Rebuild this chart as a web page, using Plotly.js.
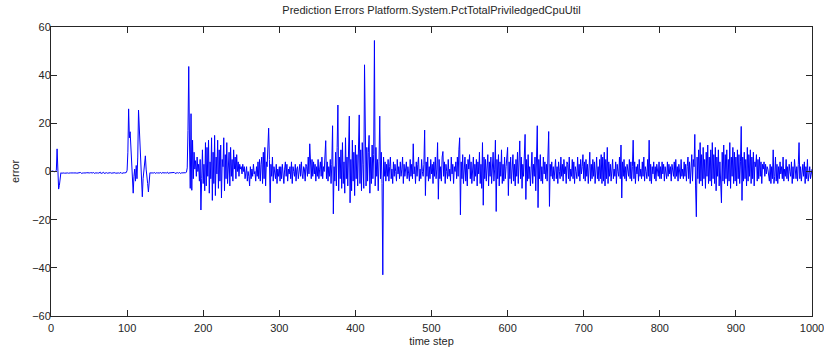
<!DOCTYPE html>
<html>
<head>
<meta charset="utf-8">
<script src="https://cdn.plot.ly/plotly-3.0.1.min.js"></script>
<style>html,body{margin:0;padding:0;background:#fff;}#chart{width:824px;height:352px;}</style>
</head>
<body>
<div id="chart"></div>
<script>
// Prediction errors, time steps 1..1000, in blocks of 100 steps
var errSteps1to100 = [0.3,0.1,0.2,0.0,-0.1,0.2,0.4,9.4,-4.5,-7.3,-5.8,-1.0,
-0.5,-0.7,-0.6,-0.5,-0.6,-0.7,-0.6,-0.5,-0.6,-0.6,
-0.7,-0.5,-0.6,-0.6,-0.5,-0.7,-0.6,-0.6,-0.5,-0.6,
-0.6,-0.7,-0.6,-0.5,-0.6,-0.6,-0.4,-0.8,-0.5,-0.6,
-0.6,-0.7,-0.6,-0.6,-0.5,-0.6,-0.7,-0.6,-0.6,-0.5,
-0.6,-0.6,-0.6,-0.4,-0.8,-0.6,-0.5,-0.6,-0.6,-0.7,
-0.6,-0.6,-0.3,-0.9,-0.5,-0.6,-0.3,-0.8,-0.6,-0.6,
-0.5,-0.7,-0.6,-0.6,-0.6,-0.5,-0.7,-0.6,-0.6,-0.6,
-0.6,-0.5,-0.7,-0.6,-0.6,-0.5,-0.6,-0.7,-0.6,-0.4,
-0.8,-0.6,-0.6,-0.5,-0.6,-0.6,-0.4,0.5];
var errSteps101to200 = [8,26,14,16.5,9.5,2,-6,-9,-2,1,
-4,2.5,-3,6,25.5,18,9,1,-7,-10.5,
-3,1,4,6.5,1,-1,-5,-8.5,-3,-0.5,
-0.6,-0.5,-0.7,-0.6,-0.6,-0.4,-0.8,-0.6,-0.5,-0.6,
-0.7,-0.6,-0.6,-0.4,-0.8,-0.5,-0.6,-0.6,-0.7,-0.6,
-0.5,-0.6,-0.3,-0.8,-0.6,-0.6,-0.5,-0.7,-0.6,-0.6,
-0.6,-0.4,-0.8,-0.6,-0.6,-0.5,-0.6,-0.7,-0.4,-0.8,
-0.6,-0.6,-0.5,-0.7,-0.6,-0.6,-0.5,-0.3,
1.5,17,43.6,11,-7,24,-7.8,13,-3,8,
1,4.5,-2,6,0,3,-4,5,-16,-3,9,-5];
var errSteps201to300 = [3,-8,12,-6,10,-2,13,-9,4,-3,
14,-12,8,-5,15,-10,6,-1,13,-7,
9,-4,11,-11,5,2,14,-8,7,-3,
12,-5,3,8,-6,10,-2,5,-4,9,
1,6,-3,7,0,4,-2,3,1,2,
-1,3,0,2,-3,1,2,-4,0,-2,
-6,2,-3,1,-2,3,-1,0,-4,2,
-2,4,-3,5,-4,3,6,-5,8,-3,
10,-6,4,2,12,18,5,-13,3,-2,
6,-4,2,-1,-3,3,-5,1,-2,2];
var errSteps301to400 = [-4,2,-3,3,0,-5,1,4,-2,3,
-4,1,-1,2,-3,4,-5,2,0,-2,
3,-4,1,2,-3,0,3,-2,4,-1,
-3,2,1,-4,3,
2,-2,6,-1,11.5,3,-3,5,-2,4,
-1,3,-4,2,-2,5,-3,1,4,-2,6,-3,2,0,7,12.8,-3,4,-4,2,
-2,5,-5,3,19,-17.6,2,-4,8,-6,
10,27.6,-8,6,-3,9,-7,12,-5,4,
-9,14,-3,6,-6,10,23,-13,5,-8,
13,-4,8,-10,11];
var errSteps401to500 = [-3,7,-6,15,23.5,-5,9,-8,12,3,
-7,44.3,5,-6,10,-4,8,15,-9,6,
-5,11,-3,7,54.4,-6,10,-2,5,-8,
4,23,-3,8,-5,-42.9,6,-2,4,-4,
3,-2,5,-4,2,6,-3,1,-5,4,
-2,3,0,-4,5,-1,2,-3,4,-2,
1,6,-5,3,-2,0,4,-3,2,-1,
-4,5,-2,3,-3,11.5,-1,2,-5,4,
-2,3,6,-4,1,-3,5,0,-2,3,
17.2,-10,4,-2,6,-4,2,-3,5,-1];
var errSteps501to600 = [3,-5,4,-2,6,-3,1,12,-11.5,5,
-3,2,-4,6,8.3,-2,4,-5,3,0,
-3,5,-2,1,-4,6,-1,3,-5,2,
0,4,-3,6,-2,
9,14,-18,4,-3,7,-5,2,6,-4,
3,-6,5,1,7,-3,4,-5,2,6,
-4,3,-2,5,-6,4,-1,8,-5,3,
-7,12,-14,6,-3,5,-4,2,7,-6,
4,-2,6,-5,3,8,-4,1,13,-16.6,
5,-3,7,-6,4,-2,9,-5,3,-4,
6,-3,2,5,10];
var errSteps601to700 = [-10,4,-3,6,-5,2,7,-4,3,-6,
5,-2,8,-5,4,12.7,-3,6,-7,3,
-2,9,15.4,-11.6,5,-4,7,-3,2,-6,
4,8,-5,3,-2,6,-8,4,19,-15,
5,-3,7,-4,2,-5,6,-1,4,-3,
3,-4,5,16.6,-14.5,3,-2,4,-3,2,
-4,3,5,-3,2,-5,4,0,-3,6,
-2,3,-4,5,-1,2,-5,4,3,-3,
6,-4,1,-2,5,-3,4,-5,2,0,
-3,6,-2,3,-4,5,-1,2,7,-3];
var errSteps701to800 = [4,-4,5,-2,3,-5,2,8,-4,3,
-3,5,-2,4,-5,1,6,-3,2,-4,
5,-3,7,-5,6,-4,8,-6,5,-3,
10,-5,4,-2,3,-4,2,5,-3,1,
-2,4,-5,3,0,-2,6,-3,11,-11,
4,-2,5,-3,2,-4,3,1,-2,5,
-3,4,-4,2,13,-3,4,-5,2,-1,
3,-4,5,-2,1,-3,4,-2,6,-4,
2,0,-3,5,-2,13,-4,3,-5,2,
-1,4,-3,2,-4,3,1,-2,4,-3];
var errSteps801to900 = [2,-3,4,-1,3,-4,2,0,-3,4,
-2,3,-1,2,-4,3,1,-2,4,-3,
5,-2,2,-4,3,0,-3,5,-2,1,
-3,4,-2,3,-4,2,6,-3,4,-5,
3,7,-4,5,2,15.4,-6,-18.8,6,-3,
9,-5,12,-4,7,-6,10,-3,5,-7,
8,-2,11,-5,6,-4,9,-6,12,-3,
7,-5,10,-8,6,-2,9,-6,4,-3,
-13,8,-4,11,-5,7,-3,9,-6,5,
-4,12,-7,6,-2,10,-5,8,-4,6];
var errSteps901to1000 = [-6,9,-3,7,-5,4,18.7,-12,6,-4,
8,-3,5,-6,10,-4,7,-2,9,-5,
6,-3,8,-6,4,2,7,-4,5,-3,
6,-2,4,-5,3,1,4,-2,3,-1,
2,1,-1,-4,3,-5,2,-3,9,-5,
-2,6,-4,3,-5,2,-3,4,-1,2,
-3,6,-4,1,-2,5,-3,2,-4,3,
0,-2,4,-5,2,-3,5,1,-3,2,
-4,3,12,-3,2,-4,1,3,-2,4,
-5,2,-3,5,-4,1,2,-3,0,1];

var xTickVals = [0,100,200,300,400,500,600,700,800,900,1000];
var xTickText = ['0','100','200','300','400','500','600','700','800','900','1000'];
var yTickVals = [-60,-40,-20,0,20,40,60];

var errors = [].concat(errSteps1to100, errSteps101to200, errSteps201to300, errSteps301to400,
  errSteps401to500, errSteps501to600, errSteps601to700, errSteps701to800,
  errSteps801to900, errSteps901to1000);
var steps = errors.map(function(_, i){ return i + 1; });

var font = {family: 'Liberation Sans, Arial, sans-serif', size: 11, color: '#262626'};
var axisCommon = {
  showline: true, linecolor: '#262626', linewidth: 1, mirror: 'ticks',
  ticks: 'inside', ticklen: 6, tickcolor: '#262626', tickwidth: 1,
  showgrid: false, zeroline: false, tickfont: font
};

Plotly.newPlot('chart', [{
  x: steps, y: errors, type: 'scatter', mode: 'lines',
  line: {color: '#0000ff', width: 1}, hoverinfo: 'skip'
}], {
  width: 824, height: 352,
  margin: {l: 51, r: 12, t: 27, b: 36},
  paper_bgcolor: '#ffffff', plot_bgcolor: '#ffffff',
  font: font, showlegend: false,
  title: {text: 'Prediction Errors Platform.System.PctTotalPriviledgedCpuUtil',
    font: font, x: 0.5, xanchor: 'center', xref: 'paper', y: 0.97, yref: 'container', yanchor: 'middle'},
  xaxis: Object.assign({}, axisCommon, {range: [0, 1000], tickmode: 'array', tickvals: xTickVals, ticktext: xTickText,
    ticklabeloverflow: 'allow', ticklabelstandoff: 2, automargin: false,
    title: {text: 'time step', font: font, standoff: 4}}),
  yaxis: Object.assign({}, axisCommon, {range: [-60, 60], tickvals: yTickVals,
    ticklabelstandoff: -3, automargin: false,
    title: {text: 'error', font: font, standoff: 10}})
}, {staticPlot: true, displayModeBar: false});
</script>
</body>
</html>
